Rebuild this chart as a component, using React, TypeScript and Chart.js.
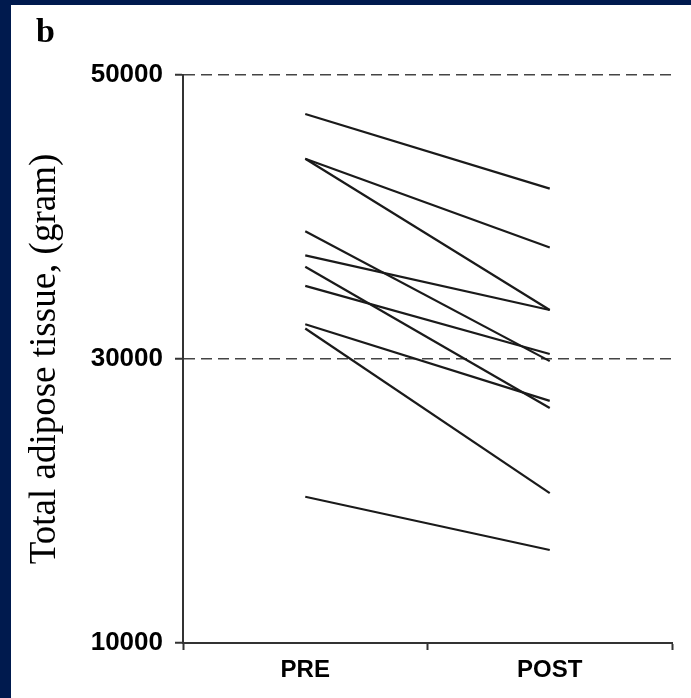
import { useEffect, useRef } from 'react';
import { Chart, registerables } from 'chart.js';

Chart.register(...registerables);

const categories = ['PRE', 'POST'];
const preValues = [47250, 44100, 44100, 39000, 37300, 36500, 35150, 32450, 32150, 20300];
const postValues = [42000, 37850, 33450, 29850, 33450, 26550, 30350, 27050, 20550, 16550];
const yTicks = [10000, 30000, 50000];
const yTitle = 'Total adipose tissue, (gram)';
const panelLabel = 'b';

const panelLabelPlugin = {
  id: 'panelLabel',
  afterDraw(chart: any) {
    const ctx = chart.ctx;
    ctx.save();
    ctx.fillStyle = '#000';
    ctx.font = 'bold 34px "Liberation Serif"';
    ctx.textBaseline = 'alphabetic';
    ctx.textAlign = 'left';
    ctx.fillText(panelLabel, 25, 37);
    ctx.restore();
  },
};

export default function App() {
  const ref = useRef<HTMLCanvasElement | null>(null);

  useEffect(() => {
    if (!ref.current) return;
    const datasets = preValues.map((pre, i) => ({
      label: 'Subject ' + (i + 1),
      data: [pre, postValues[i]],
      borderColor: '#1a1a1a',
      backgroundColor: '#1a1a1a',
      borderWidth: 2.2,
      pointRadius: 0,
      fill: false,
      tension: 0,
    }));
    const chart = new Chart(ref.current, {
      type: 'line',
      data: { labels: categories, datasets },
      plugins: [panelLabelPlugin],
      options: {
        animation: false,
        responsive: false,
        maintainAspectRatio: false,
        layout: { padding: { top: 70, right: 19, bottom: 0, left: 0 } },
        plugins: { legend: { display: false }, tooltip: { enabled: false } },
        scales: {
          x: {
            type: 'category',
            offset: true,
            grid: {
              offset: true,
              drawOnChartArea: false,
              drawTicks: true,
              tickLength: 7,
              tickColor: '#333',
              tickWidth: 2,
            },
            border: { display: true, color: '#333', width: 2 },
            ticks: {
              color: '#000',
              font: { family: '"Liberation Sans"', size: 24, weight: 'bold' },
              padding: 6,
            },
            afterFit: (s: any) => {
              s.height = 55;
            },
          },
          y: {
            type: 'linear',
            min: 10000,
            max: 50000,
            afterBuildTicks: (s: any) => {
              s.ticks = yTicks.map((v) => ({ value: v }));
            },
            grid: {
              color: (c: any) => (c.tick && c.tick.value === 10000 ? 'rgba(0,0,0,0)' : '#444'),
              lineWidth: 1.5,
              drawTicks: true,
              tickLength: 8,
              tickColor: '#333',
              tickWidth: 2,
            },
            border: { display: true, color: '#333', width: 2, dash: [11, 6] },
            ticks: {
              color: '#000',
              font: { family: '"Liberation Sans"', size: 26, weight: 'bold' },
              padding: 12,
              callback: (v: any) => String(v),
            },
            title: {
              display: true,
              text: yTitle,
              color: '#000',
              font: { family: '"Liberation Serif"', size: 37, weight: 'normal' },
              padding: { top: 12, bottom: 0 },
            },
            afterFit: (s: any) => {
              s.width = 172;
            },
          },
        },
      } as any,
    });
    return () => chart.destroy();
  }, []);

  return (
    <div
      style={{
        position: 'fixed',
        left: 0,
        top: 0,
        width: 691,
        height: 698,
        background: '#001a4e',
      }}
    >
      <canvas
        ref={ref}
        width={680}
        height={693}
        style={{ position: 'absolute', left: 11, top: 5, width: 680, height: 693, background: '#fff' }}
      />
    </div>
  );
}
